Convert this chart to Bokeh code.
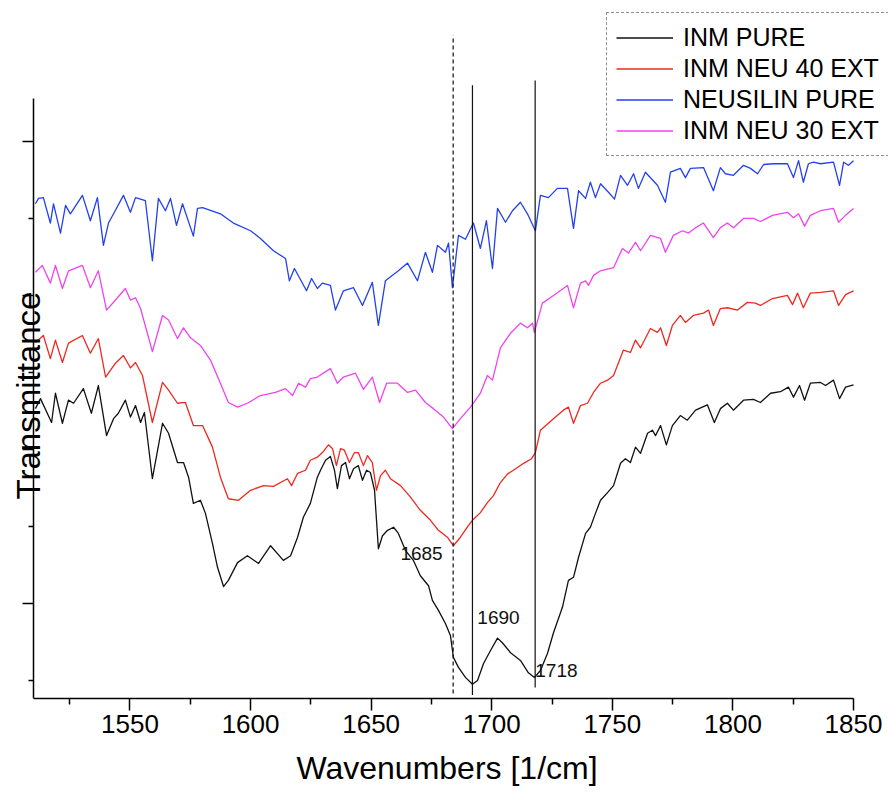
import math
from bokeh.plotting import figure
from bokeh.models import Range1d, FixedTicker, Legend, LegendItem, Label
from bokeh.embed import file_html
from bokeh.resources import INLINE
from bokeh.core.properties import value

# ---------------- data ----------------
wn_inm_pure = [1510.8, 1512.9, 1517.5, 1519.1, 1522.0, 1524.5, 1526.6, 1530.7, 1534.0, 1536.9,
               1540.3, 1543.2, 1545.2, 1548.1, 1550.2, 1552.3, 1554.4, 1556.0, 1559.3, 1563.5,
               1566.0, 1569.7, 1572.2, 1574.3, 1576.3, 1579.2, 1581.3, 1584.2, 1586.3, 1588.8,
               1590.8, 1594.6, 1598.7, 1603.3, 1608.3, 1613.6, 1616.6, 1619.5, 1621.9, 1624.8,
               1627.7, 1629.0, 1631.1, 1633.1, 1634.8, 1636.0, 1637.7, 1639.4, 1641.0, 1642.7,
               1644.7, 1646.4, 1648.1, 1649.7, 1651.4, 1653.0, 1654.7, 1656.8, 1659.3, 1661.3,
               1664.2, 1667.5, 1670.4, 1673.8, 1675.4, 1677.9, 1680.8, 1682.9, 1684.1, 1686.2,
               1689.1, 1692.0, 1694.1, 1696.6, 1699.5, 1702.4, 1704.4, 1707.8, 1711.9, 1715.2,
               1717.7, 1720.2, 1723.1, 1725.6, 1729.3, 1731.8, 1733.9, 1736.0, 1738.9, 1740.9,
               1743.0, 1745.1, 1748.0, 1750.5, 1753.4, 1755.4, 1757.5, 1759.6, 1761.7, 1764.6,
               1766.6, 1767.9, 1770.0, 1772.4, 1774.9, 1778.2, 1781.1, 1784.5, 1789.4, 1792.3,
               1794.8, 1797.7, 1800.2, 1804.4, 1808.5, 1811.4, 1815.6, 1819.7, 1823.0, 1825.1,
               1827.6, 1829.7, 1832.1, 1836.3, 1838.4, 1841.7, 1844.2, 1846.7, 1850.0]
t_inm_pure = [45.3, 46.6, 43.5, 47.3, 43.4, 46.4, 46.0, 47.9, 44.7, 48.3,
              41.8, 44.0, 44.7, 46.4, 44.2, 45.7, 43.5, 44.8, 36.2, 43.4,
              42.1, 38.3, 38.3, 36.4, 33.0, 33.4, 31.7, 27.8, 24.7, 22.2,
              23.0, 25.3, 26.2, 25.2, 27.5, 25.6, 26.2, 28.6, 31.2, 33.0,
              36.4, 37.3, 38.6, 39.1, 37.3, 34.9, 37.9, 38.3, 36.2, 37.5,
              37.9, 36.0, 37.3, 37.0, 34.7, 27.1, 28.8, 29.5, 29.9, 29.1,
              26.9, 25.6, 23.6, 22.3, 20.4, 19.1, 17.4, 15.8, 13.0, 11.7,
              10.4, 9.5, 10.0, 12.2, 13.9, 15.5, 14.9, 13.6, 12.6, 11.0,
              10.4, 11.3, 13.5, 16.2, 19.5, 23.0, 23.4, 26.0, 29.1, 29.9,
              31.7, 33.4, 34.4, 35.3, 38.2, 38.8, 38.3, 40.3, 39.5, 42.1,
              42.5, 41.8, 43.1, 40.6, 43.1, 44.4, 43.8, 45.1, 45.8, 43.5,
              45.3, 46.0, 45.1, 46.4, 46.5, 46.1, 47.3, 47.5, 48.1, 46.8,
              48.3, 46.4, 48.6, 48.7, 48.3, 49.0, 46.6, 48.1, 48.4]

wn_neu40 = [1510.8, 1514.1, 1517.0, 1519.1, 1522.0, 1524.5, 1530.3, 1533.6, 1536.9, 1539.9,
            1544.0, 1547.3, 1550.2, 1552.3, 1555.2, 1559.3, 1563.5, 1566.0, 1569.7, 1573.0,
            1576.3, 1580.1, 1584.2, 1587.5, 1590.8, 1595.0, 1600.0, 1605.4, 1609.5, 1615.3,
            1617.0, 1619.5, 1622.8, 1624.8, 1627.7, 1629.8, 1632.3, 1634.0, 1635.6, 1637.3,
            1638.9, 1641.0, 1643.1, 1644.7, 1646.8, 1648.5, 1650.5, 1652.2, 1653.9, 1655.9,
            1658.0, 1662.2, 1666.3, 1670.4, 1674.6, 1677.9, 1681.6, 1684.1, 1687.0, 1690.3,
            1692.0, 1695.3, 1698.2, 1700.7, 1703.6, 1706.5, 1709.9, 1713.2, 1716.5, 1718.1,
            1720.2, 1725.6, 1729.7, 1731.8, 1733.9, 1736.8, 1739.7, 1742.2, 1745.1, 1748.0,
            1750.5, 1754.6, 1757.5, 1759.6, 1761.7, 1765.8, 1768.7, 1770.0, 1772.4, 1774.9,
            1778.2, 1780.3, 1783.6, 1787.8, 1789.9, 1791.9, 1794.8, 1797.7, 1801.9, 1806.0,
            1809.3, 1811.4, 1816.4, 1822.6, 1824.7, 1826.8, 1829.2, 1832.1, 1836.3, 1841.7,
            1843.8, 1846.7, 1850.0]
t_neu40 = [53.9, 54.8, 51.8, 54.2, 51.3, 53.8, 54.8, 52.5, 54.4, 49.4,
           51.2, 52.2, 50.6, 51.3, 49.6, 43.5, 48.7, 47.7, 46.0, 46.1,
           43.1, 43.1, 40.3, 36.4, 33.6, 33.4, 34.7, 35.3, 35.2, 36.2,
           35.3, 36.9, 37.3, 38.6, 39.0, 39.6, 40.6, 40.1, 37.9, 40.1,
           39.9, 38.3, 39.6, 39.6, 37.9, 39.2, 38.3, 34.7, 36.6, 37.3,
           36.2, 35.3, 33.8, 32.1, 30.8, 29.5, 28.6, 27.5, 28.6, 30.1,
           30.8, 31.8, 33.1, 34.0, 35.7, 36.8, 37.5, 38.2, 38.8, 39.6,
           42.5, 44.0, 45.1, 45.5, 43.4, 45.7, 46.0, 47.4, 48.6, 49.0,
           49.6, 52.9, 52.6, 54.2, 53.2, 55.7, 55.2, 55.8, 53.5, 56.1,
           57.4, 56.5, 57.4, 57.7, 58.1, 56.1, 58.3, 58.4, 58.1, 59.1,
           59.0, 58.7, 59.6, 60.0, 58.8, 60.3, 58.4, 60.3, 60.4, 60.6,
           58.7, 60.1, 60.6]

wn_neusilin = [1510.8, 1512.1, 1514.1, 1517.0, 1518.3, 1521.2, 1523.3, 1525.3, 1530.3, 1533.6,
               1536.5, 1539.0, 1541.1, 1543.2, 1547.3, 1550.2, 1552.3, 1556.4, 1559.3, 1561.8,
               1564.7, 1566.8, 1569.3, 1571.8, 1576.3, 1578.0, 1580.1, 1587.5, 1592.9, 1600.0,
               1604.1, 1609.5, 1614.5, 1616.1, 1618.2, 1623.2, 1625.3, 1627.7, 1629.8, 1633.1,
               1635.2, 1638.5, 1642.7, 1646.4, 1650.5, 1653.0, 1655.9, 1661.3, 1665.1, 1669.2,
               1672.5, 1675.4, 1677.5, 1680.8, 1682.1, 1683.7, 1686.2, 1689.1, 1692.4, 1695.3,
               1697.8, 1700.3, 1702.4, 1705.7, 1708.6, 1711.9, 1714.8, 1718.1, 1720.2, 1723.5,
               1727.2, 1731.4, 1733.9, 1736.0, 1738.9, 1740.9, 1743.0, 1745.1, 1748.4, 1750.9,
               1753.4, 1756.3, 1758.8, 1760.8, 1763.7, 1768.7, 1772.0, 1774.1, 1778.2, 1780.3,
               1782.4, 1787.8, 1791.9, 1794.8, 1796.9, 1800.2, 1804.4, 1807.3, 1810.2, 1812.7,
               1816.8, 1822.6, 1825.1, 1827.2, 1829.2, 1831.3, 1833.4, 1836.3, 1841.7, 1844.2,
               1845.9, 1847.9, 1850.0]
t_neusilin = [71.9, 72.6, 72.7, 69.4, 71.9, 68.1, 71.7, 70.6, 73.0, 69.7,
              72.7, 66.5, 69.4, 70.6, 73.0, 70.8, 72.7, 72.3, 64.5, 72.6,
              71.0, 72.6, 69.1, 71.9, 67.7, 71.3, 71.4, 70.6, 69.4, 68.4,
              67.4, 65.8, 64.8, 61.9, 63.5, 60.6, 62.2, 60.9, 61.6, 61.3,
              58.1, 60.6, 61.0, 58.7, 61.7, 56.1, 61.9, 63.2, 64.2, 61.9,
              65.6, 63.0, 66.5, 65.6, 66.8, 61.0, 67.8, 67.3, 69.4, 66.1,
              69.7, 63.5, 71.3, 69.5, 71.0, 72.1, 70.6, 68.4, 73.0, 72.7,
              73.9, 73.9, 68.7, 73.6, 72.6, 74.7, 72.7, 74.5, 73.4, 72.5,
              75.6, 74.3, 75.8, 73.9, 76.0, 74.3, 72.1, 76.0, 76.5, 75.3,
              76.5, 76.6, 73.6, 76.6, 75.8, 75.6, 76.9, 76.5, 75.8, 77.0,
              77.1, 77.1, 75.3, 77.5, 74.7, 77.1, 77.3, 77.1, 77.3, 74.3,
              77.3, 76.9, 77.5]

wn_neu30 = [1510.8, 1513.7, 1517.0, 1519.1, 1522.0, 1524.5, 1530.3, 1533.6, 1536.9, 1540.3,
            1544.0, 1548.1, 1550.2, 1552.3, 1554.4, 1559.3, 1563.5, 1566.0, 1569.7, 1572.2,
            1575.1, 1579.2, 1583.4, 1587.5, 1590.8, 1594.6, 1598.7, 1604.1, 1610.3, 1614.5,
            1617.4, 1619.9, 1622.8, 1624.8, 1627.7, 1633.1, 1636.0, 1638.5, 1643.5, 1646.8,
            1650.5, 1653.5, 1656.4, 1660.9, 1665.1, 1668.4, 1672.5, 1675.8, 1680.0, 1683.7,
            1687.0, 1691.2, 1695.3, 1698.2, 1700.3, 1703.6, 1707.8, 1711.9, 1714.8, 1716.9,
            1717.7, 1721.0, 1725.6, 1731.4, 1733.9, 1736.8, 1738.9, 1740.1, 1742.2, 1745.1,
            1750.5, 1754.2, 1756.7, 1759.6, 1761.7, 1765.8, 1770.0, 1772.0, 1775.3, 1779.1,
            1781.6, 1784.5, 1787.8, 1791.9, 1794.8, 1797.7, 1800.2, 1804.4, 1808.5, 1811.4,
            1816.4, 1822.6, 1825.1, 1827.2, 1829.7, 1832.1, 1836.3, 1841.7, 1843.8, 1846.7,
            1850.0]
t_neu30 = [63.0, 63.9, 61.6, 63.9, 60.9, 63.2, 63.9, 61.0, 63.2, 58.1,
           59.4, 60.9, 59.4, 59.7, 58.3, 52.7, 57.4, 56.8, 54.4, 55.8,
           54.5, 53.5, 51.6, 48.6, 46.1, 45.5, 46.0, 47.0, 47.4, 47.9,
           47.0, 48.6, 48.1, 49.2, 49.4, 50.5, 48.6, 49.4, 49.9, 47.8,
           49.4, 46.1, 48.6, 48.6, 47.4, 47.7, 46.1, 45.3, 44.2, 42.7,
           44.0, 45.5, 47.3, 49.6, 49.0, 53.2, 55.1, 56.4, 55.8, 56.4,
           55.2, 59.0, 60.0, 61.3, 58.4, 61.6, 61.9, 61.3, 62.6, 63.2,
           63.6, 66.1, 65.5, 66.9, 65.8, 67.8, 67.4, 65.6, 67.8, 68.4,
           68.1, 68.8, 69.4, 67.5, 68.8, 69.4, 68.8, 70.0, 70.0, 69.6,
           70.4, 70.8, 70.1, 70.6, 69.0, 70.4, 71.0, 71.3, 69.5, 70.4,
           71.3]

series_names = ["INM PURE", "INM NEU 40 EXT", "NEUSILIN PURE", "INM NEU 30 EXT"]
series_x = [wn_inm_pure, wn_neu40, wn_neusilin, wn_neu30]
series_y = [t_inm_pure, t_neu40, t_neusilin, t_neu30]
series_colors = ["#111111", "#f0281e", "#2340f0", "#ee44ee"]

# reference lines at band positions
marker_wn = [1684, 1692, 1718]
marker_top = [93.8, 87.3, 87.9]
marker_bottom = [8.3, 8.1, 9.1]
marker_dash = ["4 3", "solid", "solid"]

peak_labels = ["1685", "1690", "1718"]
peak_label_x = [1670.9, 1702.8, 1726.8]
peak_label_y = [26.5, 18.2, 11.3]

x_major = [1550, 1600, 1650, 1700, 1750, 1800, 1850]
x_minor = [1525, 1575, 1625, 1675, 1725, 1775, 1825]
y_major = [20, 40, 60, 80]
y_minor = [10, 30, 50, 70]

AXIS_X_LO, AXIS_X_HI = 1510, 1850          # drawn extent of the wavenumber axis
X_START, X_END = 1498.4, 1864.5            # view range (room for y title and legend)
Y_START, Y_END = 7.66, 97.0
Y_AXIS_TOP = 85.6

# ---------------- figure ----------------
p = figure(width=888, height=798, output_backend="svg", toolbar_location=None,
           x_range=Range1d(X_START, X_END), y_range=Range1d(Y_START, Y_END),
           min_border_left=5, min_border_right=0, min_border_top=10, min_border_bottom=100)
p.xgrid.visible = False
p.ygrid.visible = False
p.outline_line_color = None
p.background_fill_color = "white"
p.border_fill_color = "white"

items = []
for name, xs, ys, col in zip(series_names, series_x, series_y, series_colors):
    r = p.line(xs, ys, line_color=col, line_width=1.3, line_join="round")
    items.append(LegendItem(label=name, renderers=[r]))

for wn, top, bot, dash in zip(marker_wn, marker_top, marker_bottom, marker_dash):
    p.segment(x0=[wn], y0=[bot], x1=[wn], y1=[top], line_color="#111111",
              line_width=1.2, line_dash=dash)

p.text(x=peak_label_x, y=peak_label_y, text=peak_labels, text_align="center",
       text_baseline="middle", text_font=value("Liberation Sans"),
       text_font_size="19px", text_color="#111111")

# x axis
xa = p.xaxis[0]
xa.bounds = (AXIS_X_LO, AXIS_X_HI)
xa.ticker = FixedTicker(ticks=x_major, minor_ticks=x_minor)
xa.axis_line_color = "black"
xa.axis_line_width = 1.5
xa.major_tick_line_color = "black"
xa.major_tick_line_width = 1.5
xa.minor_tick_line_color = "black"
xa.minor_tick_line_width = 1.5
xa.major_tick_in = 0
xa.major_tick_out = 12
xa.minor_tick_in = 0
xa.minor_tick_out = 6
xa.major_label_text_font = "Liberation Sans"
xa.major_label_text_font_size = "26px"
xa.major_label_text_color = "black"
xa.major_label_standoff = 4
xa.axis_label = "Wavenumbers [1/cm]"
xa.axis_label_text_font = "Liberation Sans"
xa.axis_label_text_font_size = "32px"
xa.axis_label_text_font_style = "normal"
xa.axis_label_text_color = "black"
xa.axis_label_standoff = 14

# y axis, pinned at the left end of the wavenumber axis
ya = p.yaxis[0]
ya.fixed_location = AXIS_X_LO
ya.bounds = (Y_START, Y_AXIS_TOP)
ya.ticker = FixedTicker(ticks=y_major, minor_ticks=y_minor)
ya.axis_line_color = "black"
ya.axis_line_width = 1.5
ya.major_tick_line_color = "black"
ya.major_tick_line_width = 1.5
ya.minor_tick_line_color = "black"
ya.minor_tick_line_width = 1.5
ya.major_tick_in = 0
ya.major_tick_out = 11
ya.minor_tick_in = 0
ya.minor_tick_out = 5
ya.major_label_overrides = {t: "" for t in y_major}
ya.major_label_standoff = 0

ylab = Label(x=1507.9, y=47.0, text="Transmittance", angle=math.pi / 2,
             text_align="center", text_baseline="middle",
             text_font="Liberation Sans", text_font_size="33px", text_color="black")
p.add_layout(ylab)

legend = Legend(items=items, location=(601, 542))
legend.label_text_font = "Liberation Sans"
legend.label_text_font_size = "25px"
legend.label_text_color = "black"
legend.glyph_width = 57
legend.glyph_height = 31
legend.label_height = 31
legend.label_standoff = 10
legend.spacing = 0
legend.padding = 9
legend.margin = 0
legend.border_line_color = "#222222"
legend.border_line_dash = "1 1"
legend.border_line_width = 1.5
legend.background_fill_color = "white"
legend.background_fill_alpha = 1.0
p.add_layout(legend)

open("out.html", "w").write(file_html(p, INLINE))
